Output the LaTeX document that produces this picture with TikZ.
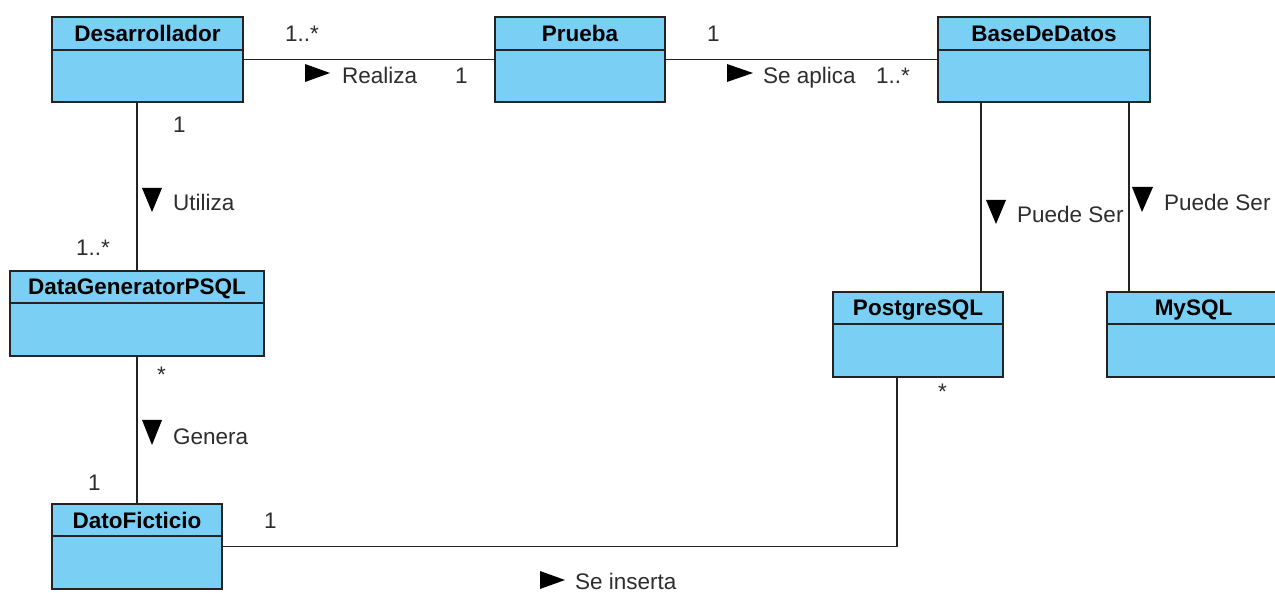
\documentclass[tikz,border=0pt]{standalone}
\usepackage{fontspec}
\setmainfont{Liberation Sans}
\definecolor{classfill}{RGB}{122,207,245}
\definecolor{edgecol}{RGB}{35,35,35}
\definecolor{txtcol}{RGB}{45,45,45}
\tikzset{
  classbox/.style={draw=edgecol, fill=classfill, line width=1.6pt, inner sep=0pt, outer sep=0pt, anchor=north west},
  classline/.style={draw=edgecol, line width=1.6pt},
  classname/.style={font=\fontsize{22.5}{27}\selectfont\bfseries, text=black, inner sep=0pt, anchor=base},
  assoc/.style={draw=edgecol, line width=1.6pt},
  lbl/.style={font=\fontsize{22.5}{27}\selectfont, text=txtcol, inner sep=0pt, anchor=base west},
  tri/.style={fill=black}
}
\newcommand\umlclass[7]{%
  \node[classbox, minimum width={(#4-#2)*1pt}, minimum height={(#5-#3)*1pt}] (#1) at (#2,#3) {};
  \draw[classline] (#2,#6) -- (#4,#6);
  \node[classname] (#1-name) at ({(#2+#4)/2},{(#3+#6)/2+8}) {#7};
}
\begin{document}
\begin{tikzpicture}[x=1pt,y=-1pt]
\useasboundingbox (0,0) rectangle (1275,593);
\fill[white] (0,0) rectangle (1275,593);

% classes
\umlclass{dev}{52}{17}{243}{102}{50}{Desarrollador}
\umlclass{prueba}{495}{17}{665}{102}{50}{Prueba}
\umlclass{bdd}{938}{17}{1150}{102}{50}{BaseDeDatos}
\umlclass{dgen}{10}{271}{264}{356}{303}{DataGeneratorPSQL}
\umlclass{pg}{833}{292}{1003}{377}{324}{PostgreSQL}
\umlclass{mysql}{1107}{292}{1280}{377}{324}{MySQL}
\umlclass{dato}{52}{504}{222}{589}{536}{DatoFicticio}

% connectors
\draw[assoc] (dev.east) -- (prueba.west);
\draw[assoc] (prueba.east) -- (bdd.west);
\draw[assoc] (dgen.north |- dev.south) -- (dgen.north);
\draw[assoc] (dgen.south) -- (dato.north);
\draw[assoc] ([xshift=43pt]bdd.south west) -- ([xshift=148pt]pg.north west);
\draw[assoc] ([xshift=191pt]bdd.south west) -- ([xshift=22pt]mysql.north west);
\draw[assoc] (dato.east) -| ([xshift=64pt]pg.south west);

% Desarrollador - Prueba
\node[lbl] (m1) at (285,42) {1..*};
\fill[tri] (305,64) -- (305,82) -- (330,73) -- cycle;
\node[lbl] (l1) at (342,84) {Realiza};
\node[lbl] (m2) at (455,84) {1};

% Prueba - BaseDeDatos
\node[lbl] (m3) at (707,42) {1};
\fill[tri] (727,64) -- (727,82) -- (753,73) -- cycle;
\node[lbl] (l2) at (763,84) {Se aplica};
\node[lbl] (m4) at (876,84) {1..*};

% Desarrollador - DataGeneratorPSQL
\node[lbl] (m5) at (173,133) {1};
\fill[tri] (142,188) -- (162,188) -- (152,212) -- cycle;
\node[lbl] (l3) at (173,211) {Utiliza};
\node[lbl] (m6) at (76,256) {1..*};

% DataGeneratorPSQL - DatoFicticio
\node[lbl] (m7) at (157,383) {*};
\fill[tri] (142,420) -- (162,420) -- (152,445) -- cycle;
\node[lbl] (l4) at (173,445) {Genera};
\node[lbl] (m8) at (88,490) {1};

% BaseDeDatos - PostgreSQL / MySQL
\fill[tri] (986,200) -- (1006,200) -- (996,224) -- cycle;
\node[lbl] (l5) at (1017,223) {Puede Ser};
\fill[tri] (1132,187) -- (1153,187) -- (1142,212) -- cycle;
\node[lbl] (l6) at (1164,211) {Puede Ser};

% DatoFicticio - PostgreSQL
\node[lbl] (m9) at (264,528) {1};
\node[lbl] (m10) at (938,400) {*};
\fill[tri] (540,571) -- (540,589) -- (565,580) -- cycle;
\node[lbl] (l7) at (575,589) {Se inserta};
\end{tikzpicture}
\end{document}
